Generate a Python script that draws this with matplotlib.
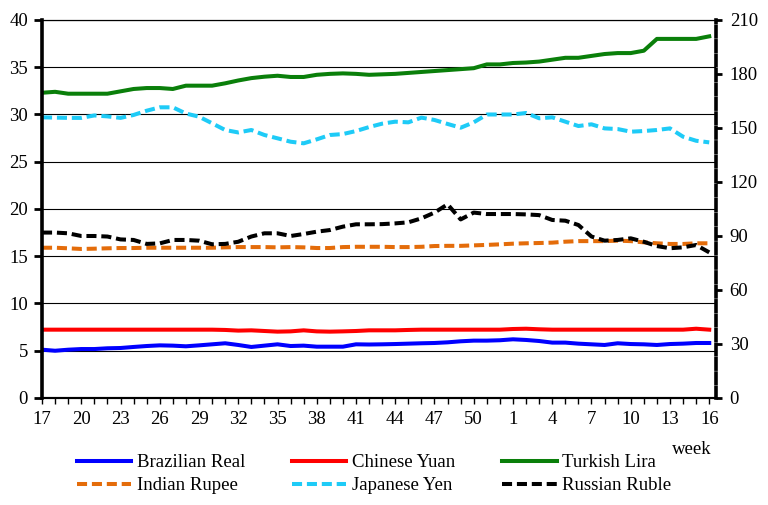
import numpy as np
import matplotlib
matplotlib.use("Agg")
import matplotlib.pyplot as plt

plt.rcParams['font.family'] = ['Liberation Serif', 'DejaVu Serif']
plt.rcParams['font.size'] = 13.5

# weeks 17..52 then 1..16
weeks = list(range(17, 53)) + list(range(1, 17))

real = [5.11, 5.0, 5.11, 5.18, 5.18, 5.26, 5.29, 5.4, 5.5, 5.57, 5.54, 5.47, 5.57, 5.68, 5.79, 5.61, 5.4,
        5.54, 5.68, 5.5, 5.54, 5.43, 5.43, 5.43, 5.68, 5.66, 5.68, 5.71, 5.75, 5.79, 5.82, 5.89, 6.0, 6.07,
        6.07, 6.11, 6.21, 6.14, 6.03, 5.86, 5.86, 5.75, 5.68, 5.61, 5.79, 5.71, 5.68, 5.61, 5.71, 5.75, 5.82, 5.82]
yuan = [7.23] * 14 + [7.2, 7.13, 7.16, 7.09, 7.02, 7.05, 7.16, 7.05, 7.02, 7.05, 7.09, 7.16, 7.16, 7.16, 7.2] \
       + [7.23] * 7 + [7.3, 7.33, 7.27] + [7.23] * 11 + [7.33, 7.23]
lira = [32.3, 32.4, 32.2, 32.2, 32.2, 32.2, 32.45, 32.7, 32.8, 32.8, 32.7, 33.05, 33.05, 33.05, 33.3, 33.6,
        33.85, 34.0, 34.1, 33.97, 33.97, 34.2, 34.3, 34.35, 34.3, 34.2, 34.25, 34.3, 34.4, 34.5, 34.6, 34.7,
        34.8, 34.9, 35.3, 35.3, 35.45, 35.5, 35.6, 35.8, 36.0, 36.0, 36.2, 36.4, 36.5, 36.5, 36.75, 38.0,
        38.0, 38.0, 38.0, 38.27]
rupee = [15.9, 15.9, 15.84, 15.77, 15.8, 15.84, 15.87, 15.87] + [15.9] * 6 \
        + [15.94, 15.97, 15.97, 15.97, 15.94, 15.97, 15.94, 15.87, 15.87, 15.97, 16.0, 16.0, 16.0, 15.97,
           15.97, 16.0, 16.08, 16.1, 16.1, 16.15, 16.2, 16.26, 16.33, 16.37, 16.4, 16.44, 16.54, 16.6, 16.6,
           16.6, 16.65, 16.6, 16.47, 16.37, 16.3, 16.3, 16.37, 16.37]
yen = [29.7, 29.67, 29.64, 29.64, 29.9, 29.8, 29.64, 29.95, 30.4, 30.76, 30.76, 30.1, 29.77, 29.07, 28.36,
       28.1, 28.36, 27.83, 27.48, 27.12, 26.95, 27.37, 27.83, 27.93, 28.25, 28.67, 29.03, 29.24, 29.17, 29.67,
       29.42, 29.0, 28.6, 29.17, 30.0, 30.0, 30.0, 30.16, 29.6, 29.7, 29.24, 28.78, 28.96, 28.53, 28.46,
       28.18, 28.25, 28.36, 28.53, 27.65, 27.22, 27.05]
# russian ruble on the right axis
ruble = [91.9, 91.9, 91.5, 90.0, 90.0, 89.7, 88.1, 87.8, 85.6, 85.9, 87.8, 87.8, 87.4, 85.4, 85.6, 86.8, 89.7,
         91.5, 91.5, 90.0, 91.1, 92.4, 93.3, 95.2, 96.5, 96.5, 96.6, 97.0, 97.6, 99.8, 103.0, 107.6, 99.2,
         103.0, 102.2, 102.2, 102.2, 102.0, 101.6, 98.9, 98.5, 96.1, 89.7, 87.4, 87.8, 88.7, 86.8, 84.4, 83.2,
         83.7, 85.0, 80.9]

x = np.arange(len(weeks))
lw = 2.9
dash = (0, (2.5, 1.2))

fig = plt.figure(figsize=(7.68, 5.05), dpi=100)
ax = fig.add_axes([0.0547, 0.2119, 0.8773, 0.7485])
ax2 = ax.twinx()

# horizontal grid
for g in range(5, 41, 5):
    ax.axhline(g, color='black', lw=0.8, zorder=0)

h1, = ax.plot(x, real, color='#0000FF', lw=lw, label='Brazilian Real')
h2, = ax.plot(x, yuan, color='#FF0000', lw=lw, label='Chinese Yuan')
h3, = ax.plot(x, lira, color='#0A7F0A', lw=lw, label='Turkish Lira')
h4, = ax.plot(x, rupee, color='#E46C0A', lw=lw, ls=dash, label='Indian Rupee')
h5, = ax.plot(x, yen, color='#1ECBF7', lw=lw, ls=dash, label='Japanese Yen')
h6, = ax2.plot(x, ruble, color='black', lw=lw, ls=dash, label='Russian Ruble')

ax.set_xlim(0, 51.5)
ax.set_ylim(0, 40)
ax2.set_ylim(0, 210)
ax.set_yticks(range(0, 41, 5))
ax2.set_yticks(range(0, 211, 30))
ax.set_xticks(x)
ax.set_xticklabels([str(w) if i % 3 == 0 else '' for i, w in enumerate(weeks)])

# spines
for a in (ax, ax2):
    a.spines['top'].set_linewidth(0.8)
    a.spines['bottom'].set_linewidth(1.5)
    a.spines['left'].set_visible(a is ax)
    a.spines['right'].set_visible(a is ax2)
ax.spines['left'].set_linewidth(2.6)
ax2.spines['right'].set_linewidth(2.6)
ax2.spines['right'].set_linestyle((0, (2.9, 1.1)))

ax.tick_params(axis='y', length=6, width=2, pad=4)
ax.tick_params(axis='x', length=4.5, width=1, pad=5)
ax2.tick_params(axis='y', length=4, width=2, pad=6)

fig.text(0.927, 1 - 449 / 505, 'week', ha='right', va='center')

fig.legend(handles=[h1, h4, h2, h5, h3, h6], ncol=3, loc='center', bbox_to_anchor=(0.487, 0.061),
           frameon=False, handlelength=2.9, handletextpad=0.3, columnspacing=2.5, labelspacing=0.3,
           borderpad=0)

plt.savefig('out.png', dpi=100)
